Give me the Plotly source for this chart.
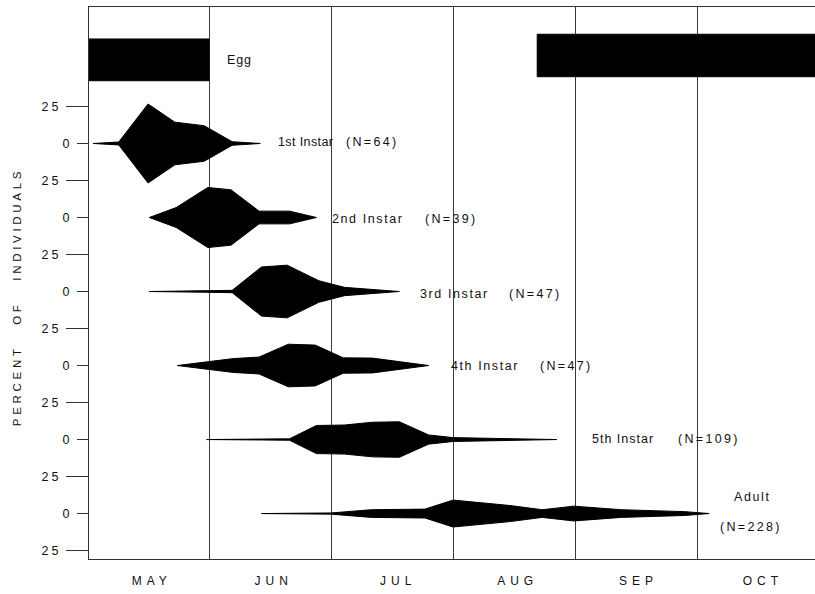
import plotly.graph_objects as go

# ---------------- data ----------------
months = ["MAY", "JUN", "JUL", "AUG", "SEP", "OCT"]
month_label_pos = [0.53, 1.53, 2.55, 3.53, 4.52, 5.54]
month_edges = [1, 2, 3, 4, 5]

stages = ["1st Instar", "2nd Instar", "3rd Instar", "4th Instar", "5th Instar", "Adult"]
stage_n = [64, 39, 47, 47, 109, 228]

# sampling dates in months after 1 May, and percent of individuals (half-width)
instar1_dates = [0.05, 0.26, 0.50, 0.72, 0.96, 1.19, 1.42]
instar1_pct = [0, 1.0, 26.7, 14.4, 12.0, 1.2, 0]

instar2_dates = [0.51, 0.73, 0.99, 1.18, 1.41, 1.66, 1.88]
instar2_pct = [0, 6.7, 20.3, 18.7, 4.3, 4.3, 0]

instar3_dates = [0.51, 0.97, 1.19, 1.43, 1.64, 1.90, 2.11, 2.56]
instar3_pct = [0, 0.5, 0.8, 16.6, 17.8, 7.3, 2.8, 0]

instar4_dates = [0.74, 1.20, 1.41, 1.65, 1.87, 2.10, 2.34, 2.80]
instar4_pct = [0, 4.7, 5.7, 14.4, 13.8, 5.2, 5.0, 0]

instar5_dates = [0.98, 1.43, 1.66, 1.88, 2.11, 2.34, 2.56, 2.80, 3.00, 3.85]
instar5_pct = [0, 0.3, 0.5, 9.5, 9.8, 11.7, 12.0, 3.1, 1.3, 0]

adult_dates = [1.43, 2.00, 2.33, 2.77, 3.00, 3.47, 3.73, 3.99, 4.38, 4.90, 5.10]
adult_pct = [0, 0.4, 2.6, 3.0, 9.1, 5.4, 2.6, 5.0, 2.6, 1.3, 0]

egg_start = [0.0, 3.69]
egg_end = [1.0, 6.0]

# ---------------- styling / layout constants ----------------
FONT = "Liberation Sans, Arial, Helvetica, sans-serif"
INK = "#111111"
AXIS = "#333333"
ROW_STEP = 50
EGG_BANDS = [(42.4, 70.6), (45.1, 73.8)]

all_dates = [instar1_dates, instar2_dates, instar3_dates, instar4_dates, instar5_dates, adult_dates]
all_pct = [instar1_pct, instar2_pct, instar3_pct, instar4_pct, instar5_pct, adult_pct]

fig = go.Figure()

# egg period bars
for (s, e), (lo, hi) in zip(zip(egg_start, egg_end), EGG_BANDS):
    fig.add_trace(go.Scatter(
        x=[s, e, e, s, s], y=[lo, lo, hi, hi, lo],
        mode="lines", fill="toself", fillcolor="#000000",
        line=dict(color="#000000", width=1), hoverinfo="skip", showlegend=False))

# kites
for i, (d, p) in enumerate(zip(all_dates, all_pct)):
    base = -ROW_STEP * i
    xs = list(d) + list(d[::-1])
    ys = [base + v for v in p] + [base - v for v in p[::-1]]
    fig.add_trace(go.Scatter(
        x=xs, y=ys, mode="lines", fill="toself", fillcolor="#000000",
        line=dict(color="#000000", width=1), name=stages[i],
        hoverinfo="name", showlegend=False))

# invisible trace to anchor the secondary (zero-tick) axis
fig.add_trace(go.Scatter(x=[None], y=[None], yaxis="y2", showlegend=False, hoverinfo="skip"))

def ls(text, px):
    return f'<span style="letter-spacing:{px}px">{text}</span>'

# label anchors in axis units
stage_lbl = [(1.55, 0.8, 0.4), (1.99, -51.0, 1.6), (2.71, -101.7, 1.6),
             (2.965, -150.3, 1.6), (4.125, -199.9, 1.0), (5.285, -238.6, 1.6)]
n_lbl = [(2.105, 0.8), (2.755, -51.0), (3.44, -101.7),
         (3.70, -150.3), (4.83, -199.9), (5.175, -259.3)]

annotations = []
for i in range(len(stages)):
    sx, sy, sp = stage_lbl[i]
    annotations.append(dict(x=sx, y=sy, xref="x", yref="y", text=ls(stages[i], sp),
                            showarrow=False, xanchor="left", yanchor="middle",
                            font=dict(family=FONT, size=12.5, color=INK)))
    nx, ny = n_lbl[i]
    annotations.append(dict(x=nx, y=ny, xref="x", yref="y", text=ls(f"(N={stage_n[i]})", 2.3),
                            showarrow=False, xanchor="left", yanchor="middle",
                            font=dict(family=FONT, size=12.5, color=INK)))

annotations.append(dict(x=1.13, y=56.4, xref="x", yref="y", text=ls("Egg", 0.9),
                        showarrow=False, xanchor="left", yanchor="middle",
                        font=dict(family=FONT, size=12.5, color=INK)))

annotations.append(dict(x=-0.099, y=(559 - 297) / 552, xref="paper", yref="paper",
                        text=ls("PERCENT   OF   INDIVIDUALS", 3.7), textangle=-90,
                        showarrow=False, xanchor="center", yanchor="middle",
                        font=dict(family=FONT, size=11.5, color=INK)))

yr = [-280.7, 92.2]
fig.update_layout(
    width=815, height=594,
    margin=dict(l=89, r=0, t=7, b=35),
    paper_bgcolor="white", plot_bgcolor="white",
    font=dict(family=FONT, color=INK),
    showlegend=False,
    annotations=annotations,
    xaxis=dict(
        range=[0.016, 5.967], showgrid=False, zeroline=False,
        showline=True, mirror=True, linecolor=AXIS, linewidth=1,
        tickmode="array", tickvals=month_label_pos,
        ticktext=[ls(m, 5) for m in months], ticks="",
        ticklabelstandoff=11,
        tickfont=dict(family=FONT, size=12, color=INK),
        minor=dict(tickvals=month_edges, showgrid=True, gridcolor="#3a3a3a",
                   gridwidth=1, ticks=""),
    ),
    yaxis=dict(
        range=yr, showgrid=False, zeroline=False,
        showline=True, linecolor=AXIS, linewidth=1,
        tickmode="array",
        tickvals=[25 - ROW_STEP * k for k in range(7)],
        ticktext=[ls("25", 3)] * 7,
        ticks="outside", ticklen=22, tickcolor=AXIS, tickwidth=1,
        ticklabelstandoff=2,
        tickfont=dict(family=FONT, size=12.5, color=INK),
    ),
    yaxis2=dict(
        range=yr, overlaying="y", side="left", showgrid=False, zeroline=False,
        showline=False, tickmode="array",
        tickvals=[-ROW_STEP * k for k in range(6)],
        ticktext=["0"] * 6,
        ticks="outside", ticklen=11, tickcolor=AXIS, tickwidth=1,
        ticklabelstandoff=5,
        tickfont=dict(family=FONT, size=12.5, color=INK),
    ),
)

fig.write_html("out.html",
               config={"displayModeBar": False},
               post_script="document.body.style.margin='0';document.body.style.overflow='hidden';")
